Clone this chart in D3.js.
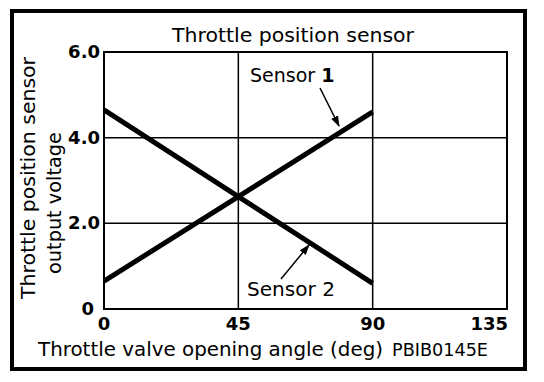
<!DOCTYPE html>
<html><head><meta charset="utf-8">
<script src="https://cdn.jsdelivr.net/npm/d3@7"></script>
<style>body{margin:0;background:#fff}svg{display:block}text{font-family:"DejaVu Sans",sans-serif;fill:#000}</style>
</head><body>
<svg id="c" width="544" height="382"></svg>
<script>
const xTicks = [0, 45, 90, 135];
const yTicks = [0, 2.0, 4.0, 6.0];
const yTickLabels = ["0", "2.0", "4.0", "6.0"];
const sensor1 = [{x: 0, y: 0.65}, {x: 90, y: 4.6}];
const sensor2 = [{x: 0, y: 4.65}, {x: 90, y: 0.6}];
const title = "Throttle position sensor";
const xLabel = "Throttle valve opening angle (deg)";
const yLabel = ["Throttle position sensor", "output voltage"];
const code = "PBIB0145E";

const svg = d3.select("#c");
const m = {l: 104, r: 507, t: 52, b: 309};
const x = d3.scaleLinear().domain([0, 135]).range([m.l, m.r]);
const y = d3.scaleLinear().domain([0, 6]).range([m.b, m.t]);

// outer frame
svg.append("rect").attr("x", 12).attr("y", 11).attr("width", 513).attr("height", 358)
  .attr("fill", "none").attr("stroke", "#000").attr("stroke-width", 4);

svg.append("text").attr("x", 172).attr("y", 42).attr("font-size", 19)
  .attr("textLength", 242).attr("lengthAdjust", "spacingAndGlyphs").text(title);

// grid
const g = svg.append("g");
g.selectAll(".vx").data(xTicks.slice(1, -1)).join("line")
  .attr("x1", d => x(d)).attr("x2", d => x(d)).attr("y1", m.t).attr("y2", m.b)
  .attr("stroke", "#000").attr("stroke-width", 1.5);
g.selectAll(".hy").data(yTicks.slice(1, -1)).join("line")
  .attr("y1", d => y(d)).attr("y2", d => y(d)).attr("x1", m.l).attr("x2", m.r)
  .attr("stroke", "#000").attr("stroke-width", 1.5);
g.append("rect").attr("x", m.l).attr("y", m.t).attr("width", m.r - m.l).attr("height", m.b - m.t)
  .attr("fill", "none").attr("stroke", "#000").attr("stroke-width", 2);

// y tick labels
svg.selectAll(".yt").data(yTicks).join("text")
  .attr("x", d => d === 0 ? 94 : 100).attr("y", d => y(d) + 6)
  .attr("text-anchor", "end")
  .attr("font-size", 18).attr("font-weight", "bold").text((d, i) => yTickLabels[i]);
// x tick labels
svg.selectAll(".xt").data(xTicks).join("text")
  .attr("x", d => d === 135 ? x(d) + 1 : x(d)).attr("y", 330)
  .attr("text-anchor", d => d === 135 ? "end" : "middle")
  .attr("font-size", 18).attr("font-weight", "bold").text(d => d);

// lines
const line = d3.line().x(d => x(d.x)).y(d => y(d.y));
[sensor1, sensor2].forEach(s => svg.append("path").attr("d", line(s))
  .attr("fill", "none").attr("stroke", "#000").attr("stroke-width", 5));

// axis labels
svg.append("text").attr("x", 38).attr("y", 356).attr("font-size", 20)
  .attr("textLength", 345).attr("lengthAdjust", "spacingAndGlyphs").text(xLabel);
svg.append("text").attr("x", 392).attr("y", 356).attr("font-size", 18)
  .attr("textLength", 96).attr("lengthAdjust", "spacingAndGlyphs").text(code);
svg.append("text").attr("transform", "translate(35,178) rotate(-90)")
  .attr("text-anchor", "middle").attr("font-size", 20)
  .attr("textLength", 242).attr("lengthAdjust", "spacingAndGlyphs").text(yLabel[0]);
svg.append("text").attr("transform", "translate(61,203) rotate(-90)")
  .attr("text-anchor", "middle").attr("font-size", 20)
  .attr("textLength", 142).attr("lengthAdjust", "spacingAndGlyphs").text(yLabel[1]);

// annotations
const defs = svg.append("defs");
defs.append("marker").attr("id", "ah").attr("viewBox", "0 0 10 10").attr("refX", 9).attr("refY", 5)
  .attr("markerWidth", 11).attr("markerHeight", 11).attr("markerUnits", "userSpaceOnUse").attr("orient", "auto")
  .append("path").attr("d", "M0,1.5 L10,5 L0,8.5 Z").attr("fill", "#000");

const t1 = svg.append("text").attr("x", 250).attr("y", 82).attr("font-size", 19);
t1.append("tspan").text("Sensor ");
t1.append("tspan").attr("font-weight", "bold").text("1");
svg.append("line").attr("x1", 320).attr("y1", 88).attr("x2", 339).attr("y2", 126)
  .attr("stroke", "#000").attr("stroke-width", 1.5).attr("marker-end", "url(#ah)");

svg.append("text").attr("x", 247).attr("y", 296).attr("font-size", 19)
  .attr("textLength", 88).attr("lengthAdjust", "spacingAndGlyphs").text("Sensor 2");
svg.append("line").attr("x1", 281).attr("y1", 279).attr("x2", 309).attr("y2", 245)
  .attr("stroke", "#000").attr("stroke-width", 1.5).attr("marker-end", "url(#ah)");
</script>
</body></html>
